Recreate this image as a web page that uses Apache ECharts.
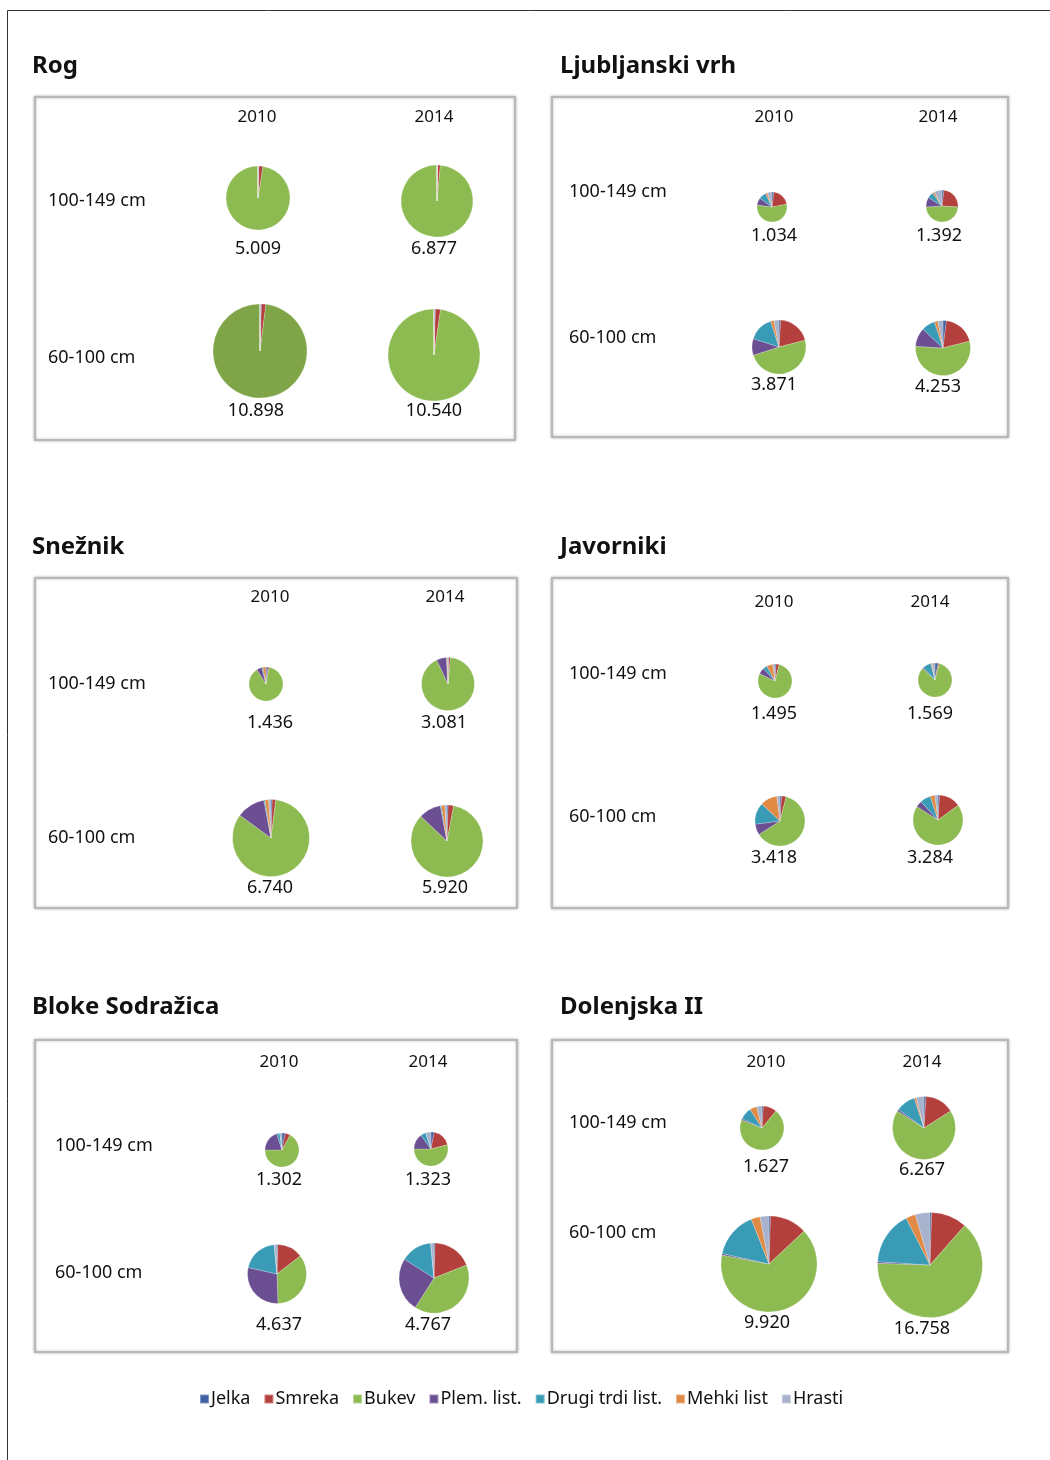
<!DOCTYPE html>
<html>
<head>
<meta charset="utf-8">
<script src="https://cdn.jsdelivr.net/npm/echarts@6/dist/echarts.min.js"></script>
<style>
html,body{margin:0;padding:0;background:#fff;}
#chart{width:1050px;height:1460px;}
</style>
</head>
<body>
<div id="chart"></div>
<script>
// ---------- DATA ----------
const regions = ['Rog', 'Ljubljanski vrh', 'Snežnik', 'Javorniki', 'Bloke Sodražica', 'Dolenjska II'];
const years = ['2010', '2014'];
const sizeClasses = ['100-149 cm', '60-100 cm'];
const species = ['Jelka', 'Smreka', 'Bukev', 'Plem. list.', 'Drugi trdi list.', 'Mehki list', 'Hrasti'];

// totals per region: [2010 100-149, 2014 100-149, 2010 60-100, 2014 60-100]
const totalsRog = [5009, 6877, 10898, 10540];
const totalsLjubljanskiVrh = [1034, 1392, 3871, 4253];
const totalsSneznik = [1436, 3081, 6740, 5920];
const totalsJavorniki = [1495, 1569, 3418, 3284];
const totalsBloke = [1302, 1323, 4637, 4767];
const totalsDolenjska = [1627, 6267, 9920, 16758];

// species shares (%) per pie, order of species
const sharesRog = [
  [0.5, 2.0, 97.5, 0, 0, 0, 0],
  [0.3, 1.2, 98.5, 0, 0, 0, 0],
  [0.5, 1.5, 98.0, 0, 0, 0, 0],
  [0.5, 1.8, 97.7, 0, 0, 0, 0]
];
const sharesLjubljanskiVrh = [
  [2, 20, 55, 8, 8, 2, 5],
  [2, 24, 48, 10, 6, 2, 8],
  [1, 20, 49, 10, 15, 2, 3],
  [2, 19, 55, 11, 8, 2, 3]
];
const sharesSneznik = [
  [2, 1, 88, 5, 1, 3, 0],
  [0.5, 1, 91.5, 6, 0.5, 0.5, 0],
  [0.5, 1.5, 83, 12, 0.5, 1.5, 1],
  [0.5, 2.5, 84, 10, 0.5, 1.5, 1]
];
const sharesJavorniki = [
  [1, 3, 78, 6, 4, 6, 2],
  [3, 1, 83, 1, 8, 1, 3],
  [1, 3, 62, 7, 14, 11, 2],
  [1, 14, 69, 4, 7, 3, 2]
];
const sharesBloke = [
  [3, 5, 67, 20, 3, 0, 2],
  [3, 18, 54, 15, 5, 0, 5],
  [0.5, 14, 35, 29, 20, 0, 1.5],
  [0.5, 18.5, 40, 25, 14.5, 0, 1.5]
];
const sharesDolenjska = [
  [1, 10, 70, 1, 9, 5, 4],
  [1, 15, 68, 1, 10, 1, 4],
  [0.5, 12.5, 65, 0.5, 15.5, 3, 3],
  [0.5, 11, 64, 0.5, 16.5, 3, 4.5]
];

const allTotals = [totalsRog, totalsLjubljanskiVrh, totalsSneznik, totalsJavorniki, totalsBloke, totalsDolenjska];
const allShares = [sharesRog, sharesLjubljanskiVrh, sharesSneznik, sharesJavorniki, sharesBloke, sharesDolenjska];

// ---------- LAYOUT / STYLE ----------
const speciesColors = ['#3f61a3', '#b4403d', '#8dbb52', '#6c4f93', '#3a9bb6', '#e08a45', '#a7b3cc'];
const FONT = 'Noto Sans';

const layout = [
  { box: [35, 97, 480, 343], title: [32, 66], yearX: [257, 434], yearY: 117, rowX: 48, rowY: [201, 358],
    pies: [[258, 198, 32], [437, 201, 36], [260, 351, 47], [434, 355, 46]],
    vals: [[258, 249], [434, 249], [256, 411], [434, 411]], dark: [false, false, true, false] },
  { box: [552, 97, 456, 340], title: [560, 66], yearX: [774, 938], yearY: 117, rowX: 569, rowY: [192, 338],
    pies: [[772, 207, 15], [942, 206, 16], [779, 347, 27], [943, 348, 27.5]],
    vals: [[774, 236], [939, 236], [774, 385], [938, 387]] },
  { box: [35, 578, 482, 330], title: [32, 547], yearX: [270, 445], yearY: 597, rowX: 48, rowY: [684, 838],
    pies: [[266, 684, 17], [448, 684, 26.5], [271, 838, 38.5], [447, 841, 36]],
    vals: [[270, 723], [444, 723], [270, 888], [445, 888]] },
  { box: [552, 578, 456, 330], title: [560, 547], yearX: [774, 930], yearY: 602, rowX: 569, rowY: [674, 817],
    pies: [[775, 681, 17], [935, 680, 17], [780, 821, 25], [938, 820, 25]],
    vals: [[774, 714], [930, 714], [774, 858], [930, 858]] },
  { box: [35, 1040, 482, 312], title: [32, 1007], yearX: [279, 428], yearY: 1062, rowX: 55, rowY: [1146, 1273],
    pies: [[282, 1150, 17], [431, 1149, 17], [277, 1274, 29.5], [434, 1278, 35]],
    vals: [[279, 1180], [428, 1180], [279, 1325], [428, 1325]] },
  { box: [552, 1040, 456, 312], title: [560, 1007], yearX: [766, 922], yearY: 1062, rowX: 569, rowY: [1123, 1233],
    pies: [[762, 1128, 22], [924, 1128, 31.5], [769, 1264, 48], [930, 1265, 52.5]],
    vals: [[766, 1167], [922, 1170], [767, 1323], [922, 1329]] }
];

function fmt(v) { return String(v).replace(/\B(?=(\d{3})+(?!\d))/g, '.'); }

const graphics = [];
// outer frame
graphics.push({ type: 'rect', shape: { x: 7.5, y: 10.5, width: 1200, height: 1600 },
  style: { fill: 'none', stroke: '#333', lineWidth: 1 }, silent: true, z: 0 });

const series = [];
regions.forEach((reg, ri) => {
  const L = layout[ri];
  graphics.push({ type: 'rect', shape: { x: L.box[0], y: L.box[1], width: L.box[2], height: L.box[3] },
    style: { fill: '#fff', stroke: '#b8b8b8', lineWidth: 2, shadowBlur: 3, shadowColor: 'rgba(0,0,0,0.25)' }, z: 1 });
  graphics.push({ type: 'text', x: L.title[0], y: L.title[1], z: 2,
    style: { text: reg, font: 'bold 24px "' + FONT + '"', fill: '#111', textVerticalAlign: 'middle' } });
  years.forEach((yr, yi) => {
    graphics.push({ type: 'text', x: L.yearX[yi], y: L.yearY, z: 2,
      style: { text: yr, font: '17px "' + FONT + '"', fill: '#111', textAlign: 'center', textVerticalAlign: 'middle' } });
  });
  sizeClasses.forEach((sc, si) => {
    graphics.push({ type: 'text', x: L.rowX, y: L.rowY[si], z: 2,
      style: { text: sc, font: '18px "' + FONT + '"', fill: '#111', textVerticalAlign: 'middle' } });
  });
  for (let k = 0; k < 4; k++) {
    const total = allTotals[ri][k];
    const shares = allShares[ri][k];
    graphics.push({ type: 'text', x: L.vals[k][0], y: L.vals[k][1], z: 2,
      style: { text: fmt(total), font: '18px "' + FONT + '"', fill: '#111', textAlign: 'center', textVerticalAlign: 'middle' } });
    const p = L.pies[k];
    const dark = L.dark && L.dark[k];
    series.push({
      type: 'pie',
      name: reg + ' ' + sizeClasses[k >> 1] + ' ' + years[k & 1],
      center: [p[0], p[1]],
      radius: [0, p[2]],
      startAngle: 90,
      clockwise: true,
      silent: true,
      z: 5,
      label: { show: false },
      labelLine: { show: false },
      itemStyle: { borderColor: 'rgba(255,255,255,0.35)', borderWidth: 0.6 },
      data: species.map((s, i) => ({
        name: s,
        value: shares[i] * total / 100,
        itemStyle: { color: (dark && i === 2) ? '#7fa548' : speciesColors[i] }
      }))
    });
  }
});

const chart = echarts.init(document.getElementById('chart'), null, { renderer: 'canvas' });
chart.setOption({
  animation: false,
  backgroundColor: '#fff',
  textStyle: { fontFamily: FONT },
  legend: {
    data: species.map((s, i) => ({ name: s, itemStyle: { color: speciesColors[i] } })),
    left: 194, top: 1385,
    icon: 'rect', itemWidth: 9, itemHeight: 9, itemGap: 13,
    selectedMode: false,
    textStyle: { fontFamily: FONT, fontSize: 18, color: '#111', padding: [0, 0, 0, -3] }
  },
  graphic: graphics,
  series: series
});
</script>
</body>
</html>
